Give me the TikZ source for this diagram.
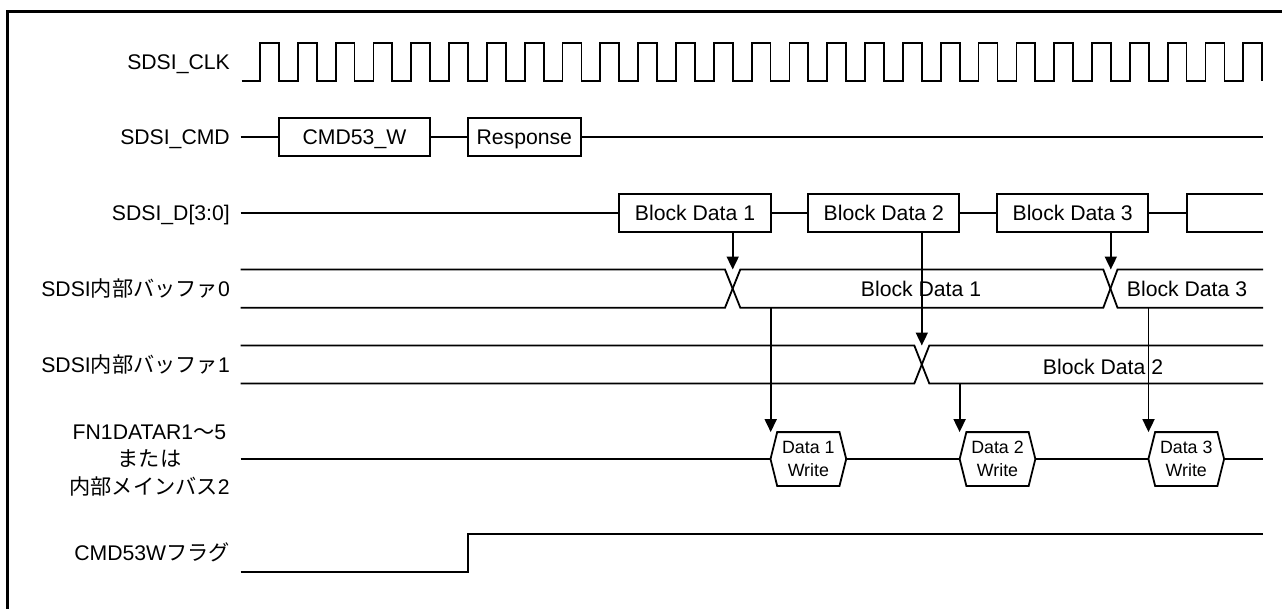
\documentclass[tikz,border=0pt]{standalone}
\usepackage{fontspec}
\setmainfont{Liberation Sans}
\newfontfamily\jp{Noto Sans CJK JP}
\usetikzlibrary{arrows.meta}
\newcommand\mkhex[1]{\draw[sig] (#1.west) -- ([xshift=6.7pt]#1.north west) -- ([xshift=-6.7pt]#1.north east) -- (#1.east) -- ([xshift=-6.7pt]#1.south east) -- ([xshift=6.7pt]#1.south west) -- cycle;}
\begin{document}
\begin{tikzpicture}[x=1pt,y=-1pt,
  sig/.style={line width=1.8pt, line join=miter},
  lbl/.style={anchor=east, inner sep=0pt, text height=15.2pt, text depth=0pt, font=\fontsize{21.2}{26}\selectfont},
  lblc/.style={lbl, anchor=center},
  databox/.style={draw, line width=1.8pt, minimum height=37.4pt, inner sep=0pt, text height=15.2pt, text depth=0pt, font=\fontsize{21.2}{26}\selectfont},
  hexnode/.style={inner sep=0pt, minimum width=75.3pt, minimum height=53.4pt, align=center, font=\fontsize{17.8}{22.7}\selectfont},
  arr/.style={line width=1.8pt, -{Triangle[length=13pt,width=12pt]}},
  txt/.style={inner sep=0pt, text height=15.2pt, text depth=0pt, font=\fontsize{21.2}{26}\selectfont}
]
\useasboundingbox (0,0) rectangle (1282,608);
\clip (0,0) rectangle (1282,608);
% frame
\draw[line width=3pt] (7,640) -- (7,11) -- (1300,11);

% labels
\node[lbl] (lclk) at (230,62) {SDSI\_CLK};
\node[lbl] (lcmd) at (230,137) {SDSI\_CMD};
\node[lbl] (ld) at (230,213) {SDSI\_D[3:0]};
\node[lbl] (lb0) at (230,289) {SDSI{\jp 内部バッファ}0};
\node[lbl] (lb1) at (230,364.5) {SDSI{\jp 内部バッファ}1};
\node[lblc] (lfn1) at (149.5,431.7) {FN1DATAR1{\jp ～}5};
\node[lblc] (lfn2) at (149.5,459.3) {\jp または};
\node[lblc] (lfn3) at (149.5,487.3) {{\jp 内部メインバス}2};
\node[lbl] (lflag) at (230,552.5) {CMD53W{\jp フラグ}};

% clock
\draw[sig] (241.7,81) \foreach \k in {0,...,26} { -- ({260+37.82*\k},81) -- ({260+37.82*\k},42.7) -- ({278.9+37.82*\k},42.7) -- ({278.9+37.82*\k},81) };

% CMD
\coordinate (cmds) at (240.7,137);
\coordinate (cmde) at (1262.5,137);
\node[databox, minimum width=151pt] (cmd53) at (354.5,137) {CMD53\_W};
\node[databox, minimum width=113.3pt] (resp) at (524.3,137) {Response};
\draw[sig] (cmds) -- (cmd53.west);
\draw[sig] (cmd53.east) -- (resp.west);
\draw[sig] (resp.east) -- (cmde);

% D[3:0]
\coordinate (ds) at (240.7,213);
\node[databox, minimum width=151.4pt] (bd1) at (695,213) {Block Data 1};
\node[databox, minimum width=151pt] (bd2) at (883.8,213) {Block Data 2};
\node[databox, minimum width=151.3pt] (bd3) at (1072.7,213) {Block Data 3};
\coordinate (bd4w) at (1186.7,213);
\coordinate (bd4nw) at (1186.7,194.3);
\coordinate (bd4sw) at (1186.7,231.7);
\coordinate (bd4ne) at (1263,194.3);
\coordinate (bd4se) at (1263,231.7);
\draw[sig] (ds) -- (bd1.west);
\draw[sig] (bd1.east) -- (bd2.west);
\draw[sig] (bd2.east) -- (bd3.west);
\draw[sig] (bd3.east) -- (bd4w);
\draw[sig] (bd4ne) -- (bd4nw) -- (bd4sw) -- (bd4se);

% buffer 0
\draw[sig] (240.7,269.5) -- (725,269.5) -- (740.3,307.7) -- (1103.3,307.7) -- (1117.5,269.5) -- (1263,269.5);
\draw[sig] (240.7,307.7) -- (725,307.7) -- (740.3,269.5) -- (1103.3,269.5) -- (1117.5,307.7) -- (1263,307.7);
\node[txt] (b0t1) at (921,289) {Block Data 1};
\node[txt] (b0t3) at (1187,289) {Block Data 3};

% buffer 1
\draw[sig] (240.7,345.5) -- (914.3,345.5) -- (929.3,383.5) -- (1263,383.5);
\draw[sig] (240.7,383.5) -- (914.3,383.5) -- (929.3,345.5) -- (1263,345.5);
\node[txt] (b1t2) at (1103,366.7) {Block Data 2};

% arrows D -> buffers
\coordinate (x0a) at (732.7,269.5);
\coordinate (x1a) at (921.8,345.5);
\coordinate (x0b) at (1110.8,269.5);
\draw[arr] (bd1.south -| x0a) -- (x0a);
\draw[arr] (bd2.south -| x1a) -- (x1a);
\draw[arr] (bd3.south -| x0b) -- (x0b);

% FN1 row
\coordinate (fs) at (240.7,459);
\coordinate (fe) at (1262.5,459);
\node[hexnode] (h1) at (808.35,459) {Data 1\\Write};
\node[hexnode] (h2) at (997.5,459) {Data 2\\Write};
\node[hexnode] (h3) at (1186.25,459) {Data 3\\Write};
\mkhex{h1}
\mkhex{h2}
\mkhex{h3}
\draw[sig] (fs) -- (h1.west);
\draw[sig] (h1.east) -- (h2.west);
\draw[sig] (h2.east) -- (h3.west);
\draw[sig] (h3.east) -- (fe);

% arrows buffers -> FN1
\coordinate (s1) at (770.7,307.7);
\coordinate (s2) at (959.6,383.5);
\coordinate (s3) at (1148.5,307.7);
\draw[arr] (s1) -- (s1 |- h1.north);
\draw[arr] (s2) -- (s2 |- h2.north);
\draw[arr] (s3) -- (s3 |- h3.north);

% flag
\coordinate (fls) at (240.7,571.7);
\coordinate (flr) at (468.3,571.7);
\coordinate (fle) at (1262.5,534.3);
\draw[sig] (fls) -- (flr) -- (flr |- fle) -- (fle);
\end{tikzpicture}
\end{document}
